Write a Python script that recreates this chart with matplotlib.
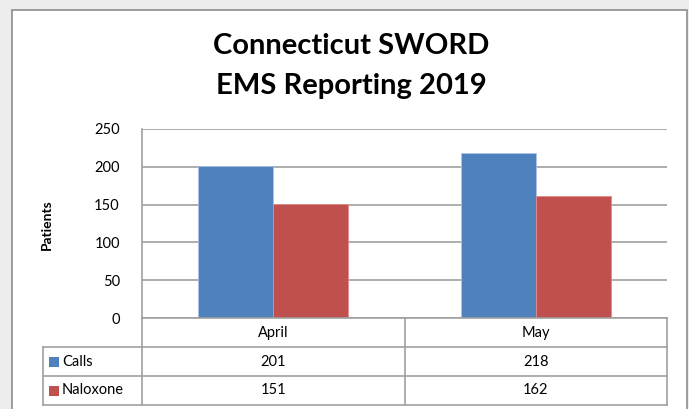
import matplotlib
matplotlib.use("Agg")
import matplotlib.pyplot as plt
from matplotlib.lines import Line2D
from matplotlib.patches import Rectangle
import numpy as np

months = ["April", "May"]
series = ["Calls", "Naloxone"]
calls = [201, 218]
naloxone = [151, 162]
colors = ["#4F81BD", "#C0504D"]
yticks = [0, 50, 100, 150, 200, 250]

W, H = 689, 409
grid_col = "#A0A0A0"
text_col = "#000000"
font = ["Lato", "DejaVu Sans"]
plt.rcParams["font.family"] = font


def fx(x):
    return x / W


def fy(y):
    return 1 - y / H


fig = plt.figure(figsize=(W / 100, H / 100), dpi=100)
fig.patch.set_facecolor("#EDEDED")

# white chart area with border
fig.add_artist(Rectangle((fx(12), fy(H + 5)), fx(687) - fx(12), fy(10) - fy(H + 5),
                         transform=fig.transFigure, facecolor="white",
                         edgecolor="#8C8C8C", lw=1.2, zorder=-5))

fig.text(fx(351), fy(46), "Connecticut SWORD", ha="center", va="center",
         fontsize=21, fontweight="bold")
fig.text(fx(351), fy(86), "EMS Reporting 2019", ha="center", va="center",
         fontsize=21, fontweight="bold")

left, right, top, bottom = 142, 667, 129, 318
ax = fig.add_axes([fx(left), fy(bottom), fx(right) - fx(left), fy(top) - fy(bottom)])
ax.set_facecolor("none")
ax.set_xlim(-0.5, 1.5)
ax.set_ylim(0, 250)

x = np.arange(len(months))
w = 1 / 1.75 / 2
ax.bar(x - w / 2, calls, w, color=colors[0], edgecolor="#A9C4E6", lw=0.6, zorder=3)
ax.bar(x + w / 2, naloxone, w, color=colors[1], edgecolor="#E08C8A", lw=0.6, zorder=3)

ax.set_yticks(yticks)
ax.set_yticklabels([str(t) for t in yticks], fontsize=10.5, color=text_col)
ax.tick_params(axis="y", length=0, pad=16)
ax.set_xticks([])
ax.yaxis.grid(True, color=grid_col, lw=1.2, zorder=0)
ax.set_axisbelow(True)
for s in ["top", "right", "bottom"]:
    ax.spines[s].set_visible(False)
ax.spines["left"].set_color(grid_col)
ax.spines["left"].set_linewidth(1.2)

fig.text(fx(47), fy(225), "Patients", rotation=90, ha="center", va="center",
         fontsize=10, fontweight="bold")

# data table
tleft, tdiv = 43, 405
rows = [318, 347, 376, 405]


def hline(x0, x1, y):
    fig.add_artist(Line2D([fx(x0), fx(x1)], [fy(y), fy(y)], color=grid_col, lw=1.2,
                          transform=fig.transFigure))


def vline(x, y0, y1):
    fig.add_artist(Line2D([fx(x), fx(x)], [fy(y0), fy(y1)], color=grid_col, lw=1.2,
                          transform=fig.transFigure))


hline(left, right, rows[0])
for r in rows[1:]:
    hline(tleft, right, r)
vline(tleft, rows[1], rows[3])
vline(left, rows[0], rows[3])
vline(tdiv, rows[0], rows[3])
vline(right, rows[0], rows[3])

col_centers = [(left + tdiv) / 2, (tdiv + right) / 2]
for c, m in zip(col_centers, months):
    fig.text(fx(c), fy((rows[0] + rows[1]) / 2), m, ha="center", va="center",
             fontsize=10.5)

for i, (name, vals) in enumerate(zip(series, [calls, naloxone])):
    yc = (rows[i + 1] + rows[i + 2]) / 2
    fig.add_artist(Rectangle((fx(49), fy(yc + 5)), fx(10), fy(yc - 5) - fy(yc + 5),
                             transform=fig.transFigure, facecolor=colors[i],
                             edgecolor="none"))
    fig.text(fx(62), fy(yc), name, ha="left", va="center", fontsize=10.5)
    for c, v in zip(col_centers, vals):
        fig.text(fx(c), fy(yc), str(v), ha="center", va="center", fontsize=10.5)

fig.savefig("out.png", dpi=100, facecolor=fig.get_facecolor())
